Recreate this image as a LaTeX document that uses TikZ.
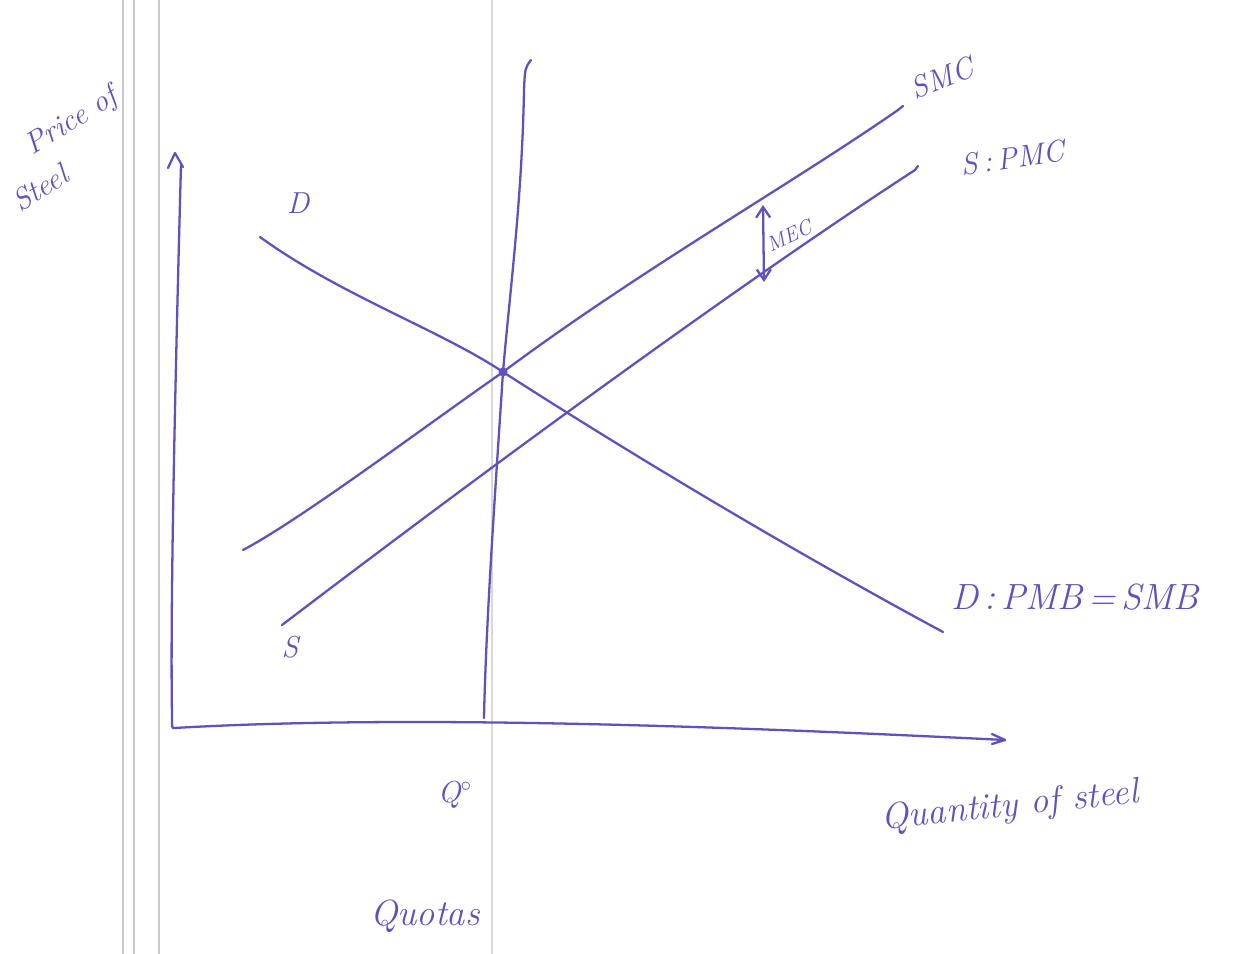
\documentclass[tikz,border=0pt]{standalone}
\usetikzlibrary{arrows.meta}
\definecolor{ink}{RGB}{98,80,190}
\definecolor{rule}{RGB}{200,200,205}
\begin{document}
\begin{tikzpicture}[x=0.02cm,y=-0.02cm,
  pen/.style={draw=ink,line width=1.3pt,line cap=round,line join=round},
  lab/.style={text=ink,font=\itshape\Large,inner sep=1pt},
  paper/.style={draw=rule,line width=0.6pt}]
\useasboundingbox[fill=white] (0,0) rectangle (1259,954);
% notebook rules
\draw[paper] (123,0) -- (123,954);
\draw[paper] (134,0) -- (134,954);
\draw[paper] (159,0) -- (159,954);
\draw[paper,draw=rule!70] (492,0) -- (492,954);
% axes
\coordinate (O) at (174,728);
\coordinate (ytop) at (181,165);
\coordinate (xend) at (1005,740);
\draw[pen] (ytop) .. controls (176,350) and (170,600) .. (172,715) .. controls (172,728) .. (O);
\draw[pen] (168,168) -- (175,153) -- (183,167);
\draw[pen] (O) .. controls (400,715) and (700,725) .. (xend);
\draw[pen] (992,734) -- (1005,740) -- (992,744);
% quota line
\coordinate (qtop) at (531,60);
\coordinate (qbot) at (484,718);
\coordinate (E) at (503,372);
\draw[pen] (qtop) .. controls (525,68) .. (524,90) .. controls (522,200) and (510,290) .. (E) .. controls (496,480) and (486,620) .. (qbot);
% curves
\coordinate (Dstart) at (260,237);
\coordinate (Dend) at (943,632);
\draw[pen] (Dstart) .. controls (340,295) and (440,330) .. (E) .. controls (640,460) and (800,555) .. (Dend);
\coordinate (SMCs) at (243,550);
\coordinate (SMCe) at (898,110);
\draw[pen] (SMCs) .. controls (300,520) and (420,430) .. (E) .. controls (640,270) and (790,185) .. (SMCe) -- (903,106);
\coordinate (PMCs) at (282,625);
\coordinate (PMCe) at (915,170);
\draw[pen] (PMCs) .. controls (420,520) and (700,310) .. (PMCe) -- (918,166);
\fill[ink] (E) circle (4.5);
% MEC arrow
\coordinate (m1) at (763,205);
\coordinate (m2) at (764,282);
\draw[pen,{Straight Barb[length=6pt,width=8pt]}-{Straight Barb[length=6pt,width=8pt]}] (m1) -- (m2);
\node[lab,rotate=25,font=\itshape\large] (mec) at (789,236) {MEC};
% labels
\node[lab,font=\itshape\LARGE] (lD) at (298,203) {D};
\node[lab,font=\itshape\LARGE] (lS) at (290,647) {S};
\node[lab,rotate=22,font=\itshape\LARGE] (lSMC) at (942,78) {SMC};
\node[lab,rotate=8,font=\itshape\LARGE] (lPMC) at (1013,158) {S\,:\,PMC};
\node[lab,font=\itshape\huge] (lDP) at (1075,597) {D\,:\,PMB\,=\,SMB};
\node[lab,font=\itshape\LARGE] (lQ) at (455,795) {Q$^{\circ}$};
\node[lab,rotate=6,font=\itshape\huge] (lQS) at (1010,807) {Quantity of steel};
\node[lab,font=\itshape\huge] (lQuo) at (425,916) {Quotas};
\node[lab,rotate=32,font=\itshape\LARGE] (lP1) at (72,122) {Price of};
\node[lab,rotate=32,font=\itshape\LARGE] (lP2) at (40,188) {Steel};
\end{tikzpicture}
\end{document}
